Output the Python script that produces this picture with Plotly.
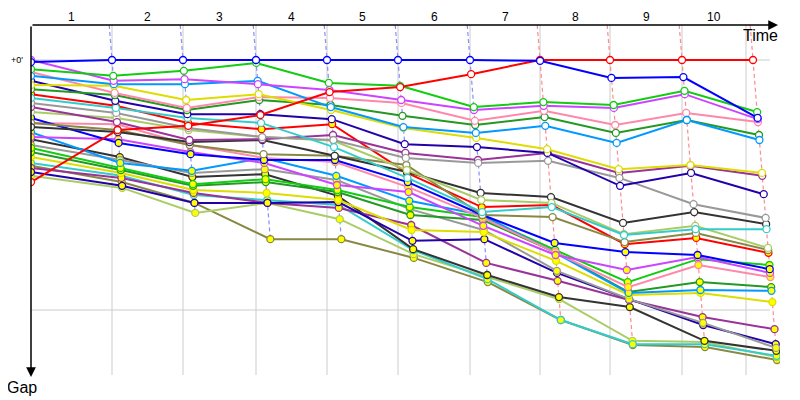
import plotly.graph_objects as go

# ---- data -------------------------------------------------------------
laps = [1, 2, 3, 4, 5, 6, 7, 8, 9, 10]
# leader crossing times (s) for lap 0..10
leader_times = [0, 243, 456, 675, 888, 1101, 1317, 1527, 1737, 1953, 2166]
# vertical grid lines (s)
grid_times = [243, 456, 675, 888, 1101, 1317, 1527, 1737, 1953, 2145]
gap_grid = [0, 60]
gap_labels = ["+0'"]

team_colors = {
    "blue": "#0000ff", "red": "#ff0000", "green": "#11cc11", "violet": "#cc44ff",
    "lightblue": "#0099ff", "yellow": "#dddd00", "pink": "#ff88aa",
    "dgreen": "#229922", "navy": "#2200aa", "cyan": "#33cccc", "gray": "#999999",
    "purple": "#993399", "lightgreen": "#aacc66", "black": "#333333", "olive": "#888844",
}

# gaps to leader (s), lap 0..10 -- first car of each team
blue_1 = [0.5, 0, 0, 0, 0, 0, 0, 0.2, 4.3, 4.1, 13.9]
red_1 = [29.3, 16.8, 15.8, 13.2, 7.7, 6.5, 3.4, 0, 0, 0, 0]
green_1 = [2.2, 3.8, 2.6, 0.7, 5.5, 6.2, 11.3, 10.1, 10.8, 7.4, 12.5]
violet_1 = [0, 5.0, 4.6, 5.8, 7.2, 9.6, 12.0, 11.0, 11.5, 8.2, 14.2]
lightblue_1 = [3.8, 5.8, 5.8, 5.0, 11.3, 16.1, 17.5, 15.8, 19.9, 14.4, 19.2]
yellow_1 = [6.0, 6.2, 9.6, 8.2, 12.0, 16.3, 18.7, 21.4, 26.2, 25.2, 27.1]
pink_1 = [2.9, 7.9, 11.5, 8.9, 9.1, 10.3, 14.6, 12.2, 15.6, 12.7, 14.9]
dgreen_1 = [7.0, 8.4, 12.0, 9.6, 10.8, 13.4, 15.6, 13.7, 17.5, 14.4, 18.0]
navy_1 = [5.0, 9.8, 13.0, 13.0, 14.2, 20.2, 20.9, 22.3, 30.2, 27.1, 32.2]
cyan_1 = [9.1, 11.5, 13.9, 15.1, 20.9, 28.3, 36.5, 35.3, 42.0, 40.6, 40.6]
gray_1 = [10.3, 12.7, 16.3, 18.5, 19.2, 23.5, 24.7, 24.2, 28.3, 34.6, 37.9]
purple_1 = [11.3, 14.9, 19.2, 19.0, 18.0, 22.3, 24.0, 22.3, 27.1, 25.4, 27.8]
lightgreen_1 = [12.5, 13.9, 16.8, 18.5, 19.4, 26.4, 33.6, 34.3, 41.8, 39.8, 45.1]
black_1 = [16.1, 17.3, 19.7, 19.2, 23.0, 26.9, 31.9, 32.9, 39.1, 36.5, 39.4]
olive_1 = [15.1, 16.8, 20.4, 22.6, 23.0, 25.2, 37.2, 37.7, 43.7, 41.5, 45.6]

# second car of each team
red_2 = [8.2, 11.0, 15.1, 16.6, 15.4, 27.1, 35.3, 34.8, 44.2, 42.7, 46.3]
blue_2 = [13.9, 19.9, 22.6, 24.0, 24.0, 29.3, 37.2, 43.9, 46.1, 46.8, 50.2]
violet_2 = [18.5, 19.0, 22.1, 24.7, 30.0, 31.7, 39.8, 46.8, 50.4, 47.3, 51.1]
pink_2 = [15.1, 15.4, 20.4, 23.5, 24.5, 30.5, 37.9, 46.1, 54.5, 49.2, 52.1]
lightblue_2 = [17.3, 24.7, 26.6, 23.5, 27.8, 33.8, 37.2, 46.3, 55.9, 55.2, 55.4]
green_2 = [21.1, 25.9, 29.8, 28.6, 31.2, 35.3, 37.7, 45.6, 53.3, 47.8, 49.2]
dgreen_2 = [22.1, 26.4, 30.2, 29.3, 31.7, 37.2, 38.4, 46.1, 55.7, 53.3, 54.5]
yellow_2 = [23.3, 27.1, 31.2, 31.9, 33.6, 40.8, 41.3, 48.2, 56.4, 55.9, 58.1]
gray_2 = [20.4, 24.0, 27.1, 26.2, 28.8, 35.8, 40.8, 50.6, 57.4, 63.1, 69.1]
navy_2 = [26.9, 30.2, 34.3, 34.3, 34.1, 43.4, 43.0, 51.1, 57.4, 63.6, 68.2]
purple_2 = [25.9, 28.3, 31.9, 34.3, 35.5, 39.6, 48.7, 53.0, 57.6, 61.7, 64.6]
black_2 = [19.0, 23.3, 28.1, 27.4, 32.6, 45.4, 51.6, 56.9, 59.3, 67.4, 69.8]
cyan_2 = [24.7, 27.8, 32.4, 33.6, 34.8, 45.6, 52.6, 62.4, 68.2, 68.2, 71.0]
lightgreen_2 = [27.8, 30.7, 36.7, 34.3, 38.2, 46.6, 52.1, 57.4, 67.4, 67.7, 71.3]
olive_2 = [25.4, 29.3, 34.3, 43.0, 43.0, 47.5, 53.3, 62.4, 68.4, 68.9, 72.0]

cars = [
    ("olive", 2, olive_2), ("lightgreen", 2, lightgreen_2), ("cyan", 2, cyan_2),
    ("black", 2, black_2), ("purple", 2, purple_2), ("navy", 2, navy_2),
    ("gray", 2, gray_2), ("yellow", 2, yellow_2), ("dgreen", 2, dgreen_2),
    ("green", 2, green_2), ("lightblue", 2, lightblue_2), ("pink", 2, pink_2),
    ("violet", 2, violet_2), ("blue", 2, blue_2), ("red", 2, red_2),
    ("olive", 1, olive_1), ("black", 1, black_1), ("lightgreen", 1, lightgreen_1),
    ("purple", 1, purple_1), ("gray", 1, gray_1), ("cyan", 1, cyan_1),
    ("navy", 1, navy_1), ("dgreen", 1, dgreen_1), ("pink", 1, pink_1),
    ("yellow", 1, yellow_1), ("lightblue", 1, lightblue_1), ("violet", 1, violet_1),
    ("green", 1, green_1), ("red", 1, red_1), ("blue", 1, blue_1),
]

# ---- geometry of the plot ----------------------------------------------
X_MAX = 2247
Y_TOP = -8.4
Y_BOT = 75.6


def car_x(gaps):
    return [0 if i == 0 else leader_times[i] + g for i, g in enumerate(gaps)]


def lighten(hex_color, f=0.6):
    h = hex_color.lstrip("#")
    r, g, b = (int(h[i:i + 2], 16) for i in (0, 2, 4))
    r, g, b = (int(c + (255 - c) * f) for c in (r, g, b))
    return f"rgb({r},{g},{b})"


fig = go.Figure()

# dashed lines joining the cars at each lap
for k in range(1, len(leader_times)):
    pts = sorted(((leader_times[k] + c[2][k], c[2][k], c[0]) for c in cars), key=lambda p: p[1])
    leader_team = pts[0][2]
    xs = [leader_times[k] + Y_TOP] + [p[0] for p in pts]
    ys = [Y_TOP] + [p[1] for p in pts]
    fig.add_trace(go.Scatter(
        x=xs, y=ys, mode="lines",
        line=dict(color=lighten(team_colors[leader_team], 0.55), width=1.2, dash="4px,3px"),
        hoverinfo="skip", showlegend=False))

for team, idx, gaps in cars:
    col = team_colors[team]
    fig.add_trace(go.Scatter(
        x=car_x(gaps), y=gaps, mode="lines+markers",
        line=dict(color=col, width=2),
        marker=dict(size=7, color="#ffffff" if idx == 1 else "#ffff00",
                    line=dict(color=col, width=1.3)),
        name=f"{team} {idx}", showlegend=False))

shapes = []
for t in grid_times:
    shapes.append(dict(type="line", xref="x", yref="y", x0=t, x1=t, y0=Y_TOP, y1=Y_BOT,
                       line=dict(color="#cccccc", width=1), layer="below"))
for g in gap_grid:
    shapes.append(dict(type="line", xref="x", yref="y", x0=0, x1=2217, y0=g, y1=g,
                       line=dict(color="#cccccc", width=1), layer="below"))

annotations = []
bounds = [0] + grid_times
for i, lap in enumerate(laps):
    annotations.append(dict(x=(bounds[i] + bounds[i + 1]) / 2, y=1, xref="x", yref="paper",
                            text=str(lap), showarrow=False, yanchor="middle", yshift=8,
                            font=dict(size=12, color="#000000")))
# axis arrows
annotations.append(dict(x=2241, y=Y_TOP, ax=0, ay=Y_TOP, xref="x", yref="y", axref="x", ayref="y",
                        text="", showarrow=True, arrowhead=2, arrowsize=1.3, arrowwidth=1.5,
                        arrowcolor="#000000", standoff=0))
annotations.append(dict(x=0, y=76.1, ax=0, ay=Y_TOP, xref="x", yref="y", axref="x", ayref="y",
                        text="", showarrow=True, arrowhead=2, arrowsize=1.3, arrowwidth=1.5,
                        arrowcolor="#000000", standoff=0))
annotations.append(dict(x=2187, y=-6, xref="x", yref="y", text="Time", showarrow=False,
                        font=dict(size=16, color="#000000")))
annotations.append(dict(x=0, y=0, xref="paper", yref="paper", text="Gap", showarrow=False,
                        xanchor="center", yanchor="top", xshift=-9, yshift=-2,
                        font=dict(size=16, color="#000000")))
annotations.append(dict(x=0, y=gap_grid[0], xref="paper", yref="y", text=gap_labels[0],
                        showarrow=False, xanchor="right", xshift=-6,
                        font=dict(size=9, color="#000000")))

# the page body has an 8px margin, so the figure is placed at (8, 8)
fig.update_layout(
    width=792, height=392,
    margin=dict(l=23, r=20, t=17, b=25),
    paper_bgcolor="white", plot_bgcolor="white",
    font=dict(family="Liberation Sans, Arial, sans-serif", color="#000000"),
    xaxis=dict(range=[0, X_MAX], showgrid=False, zeroline=False, showticklabels=False,
               showline=False, fixedrange=True),
    yaxis=dict(range=[Y_BOT, Y_TOP], showgrid=False, zeroline=False, showticklabels=False,
               showline=False, fixedrange=True),
    shapes=shapes, annotations=annotations, showlegend=False,
)

fig.write_html("out.html")
